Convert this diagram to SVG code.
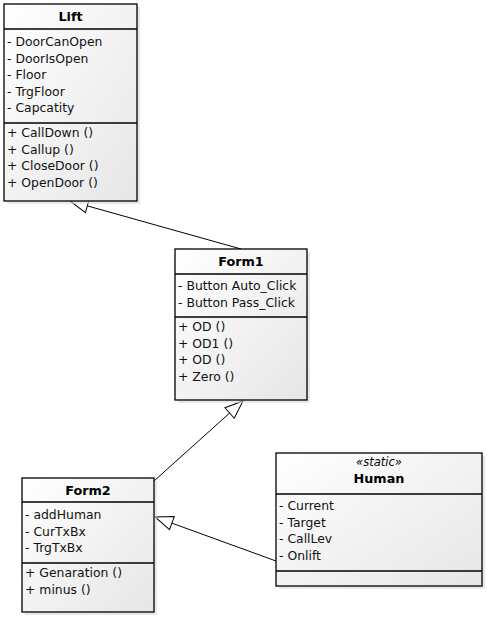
<svg xmlns="http://www.w3.org/2000/svg" width="487" height="617" viewBox="0 0 487 617">
<defs>
<linearGradient id="g" x1="0" y1="0" x2="1" y2="1">
<stop offset="0" stop-color="#ffffff"/>
<stop offset="1" stop-color="#e6e6e6"/>
</linearGradient>
<marker id="tri" viewBox="0 0 20 20" refX="19" refY="10" markerWidth="20" markerHeight="20" markerUnits="userSpaceOnUse" orient="auto">
<path d="M1,3 L19,10 L1,17 Z" fill="#ffffff" stroke="#000" stroke-width="1"/>
</marker>
</defs>
<style>
.sh{fill:#d8d8d8;opacity:0.6}
.bx{fill:url(#g);stroke:#000;stroke-width:1.3}
.ln{stroke:#000;stroke-width:1.3}
.t{font-family:"DejaVu Sans",Verdana,sans-serif;font-size:12.4px;fill:#111}
.h{font-family:"DejaVu Sans",Verdana,sans-serif;font-size:12.8px;font-weight:bold;fill:#000;text-anchor:middle}
.st{font-family:"DejaVu Sans",Verdana,sans-serif;font-size:11.5px;font-style:italic;fill:#000;text-anchor:middle}
.c{stroke:#000;stroke-width:1;fill:none}
</style>
<g id="connectors">
<line class="c" x1="241" y1="249" x2="70" y2="201" marker-end="url(#tri)"/>
<line class="c" x1="154" y1="481" x2="243" y2="401" marker-end="url(#tri)"/>
<line class="c" x1="276" y1="561" x2="155" y2="517" marker-end="url(#tri)"/>
</g>
<g id="Lift">
<rect class="sh" x="7" y="7" width="133" height="197"/>
<rect class="bx" x="4" y="4" width="133" height="197"/>
<line class="ln" x1="4" y1="29" x2="137" y2="29"/>
<line class="ln" x1="4" y1="123" x2="137" y2="123"/>
<text class="h" x="70.5" y="21">Lift</text>
<text class="t" x="7" y="46">- DoorCanOpen</text>
<text class="t" x="7" y="62.5">- DoorIsOpen</text>
<text class="t" x="7" y="79">- Floor</text>
<text class="t" x="7" y="95.5">- TrgFloor</text>
<text class="t" x="7" y="112">- Capcatity</text>
<text class="t" x="7" y="137">+ CallDown ()</text>
<text class="t" x="7" y="153.5">+ Callup ()</text>
<text class="t" x="7" y="170">+ CloseDoor ()</text>
<text class="t" x="7" y="186.5">+ OpenDoor ()</text>
</g>
<g id="Form1">
<rect class="sh" x="178" y="252" width="132" height="151"/>
<rect class="bx" x="175" y="249" width="132" height="151"/>
<line class="ln" x1="175" y1="274" x2="307" y2="274"/>
<line class="ln" x1="175" y1="317" x2="307" y2="317"/>
<text class="h" x="241" y="266">Form1</text>
<text class="t" x="178" y="290">- Button Auto_Click</text>
<text class="t" x="178" y="306.5">- Button Pass_Click</text>
<text class="t" x="178" y="331">+ OD ()</text>
<text class="t" x="178" y="347.5">+ OD1 ()</text>
<text class="t" x="178" y="364">+ OD ()</text>
<text class="t" x="178" y="380.5">+ Zero ()</text>
</g>
<g id="Form2">
<rect class="sh" x="25" y="481" width="132" height="134"/>
<rect class="bx" x="22" y="478" width="132" height="134"/>
<line class="ln" x1="22" y1="502" x2="154" y2="502"/>
<line class="ln" x1="22" y1="563" x2="154" y2="563"/>
<text class="h" x="88" y="495">Form2</text>
<text class="t" x="25" y="519">- addHuman</text>
<text class="t" x="25" y="535.5">- CurTxBx</text>
<text class="t" x="25" y="552">- TrgTxBx</text>
<text class="t" x="25" y="577">+ Genaration ()</text>
<text class="t" x="25" y="593.5">+ minus ()</text>
</g>
<g id="Human">
<rect class="sh" x="279" y="456" width="206" height="133"/>
<rect class="bx" x="276" y="453" width="206" height="133"/>
<line class="ln" x1="276" y1="494" x2="482" y2="494"/>
<line class="ln" x1="276" y1="571" x2="482" y2="571"/>
<text class="st" x="379" y="466">«static»</text>
<text class="h" x="379" y="483">Human</text>
<text class="t" x="279" y="510">- Current</text>
<text class="t" x="279" y="526.5">- Target</text>
<text class="t" x="279" y="543">- CallLev</text>
<text class="t" x="279" y="559.5">- Onlift</text>
</g>
</svg>
